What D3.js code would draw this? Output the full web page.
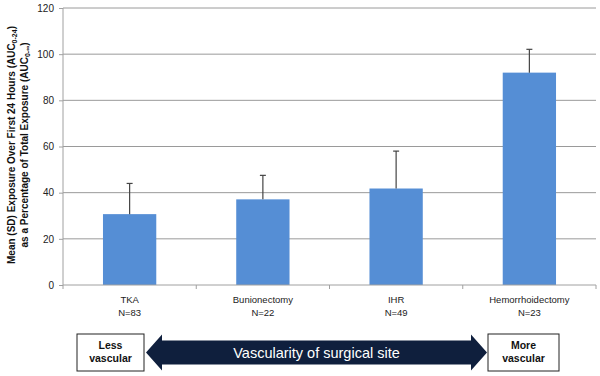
<!DOCTYPE html>
<html>
<head>
    <script src="https://cdn.jsdelivr.net/npm/d3@7"></script>
    <style>
        body { margin: 0; background: #fff; }
        text { font-family: "Liberation Sans", Arial, sans-serif; }
    </style>
</head>
<body>
    <svg width="600" height="376" id="mainsvg"></svg>
    <script>
        // data
        const categories = ['TKA', 'Bunionectomy', 'IHR', 'Hemorrhoidectomy'];
        const sampleSizes = ['N=83', 'N=22', 'N=49', 'N=23'];
        const means = [30.7, 37.1, 41.8, 92.0];
        const sds = [13.3, 10.4, 16.2, 10.1];
        const yTicks = [0, 20, 40, 60, 80, 100, 120];

        const svg = d3.select('#mainsvg');
        const margin = { top: 8, right: 4, bottom: 91, left: 63 };
        const innerWidth = 600 - margin.left - margin.right;
        const innerHeight = 376 - margin.top - margin.bottom;
        const g = svg.append('g')
            .attr('transform', `translate(${margin.left}, ${margin.top})`);

        const xScale = d3.scaleBand().domain(categories).range([0, innerWidth]);
        const yScale = d3.scaleLinear().domain([0, 120]).range([innerHeight, 0]);

        // gridlines
        g.selectAll('.grid').data(yTicks.slice(1)).join('line')
            .attr('x1', 0).attr('x2', innerWidth)
            .attr('y1', d => yScale(d)).attr('y2', d => yScale(d))
            .attr('stroke', '#9a9a9a').attr('stroke-width', 1);

        // y axis
        const yAxis = d3.axisLeft(yScale).tickValues(yTicks).tickSize(4).tickPadding(5);
        const yg = g.append('g').call(yAxis);
        yg.selectAll('path, line').attr('stroke', '#a0a0a0');
        yg.select('.domain').attr('d', `M0,0V${innerHeight}`);
        yg.selectAll('text').attr('font-size', 10).attr('fill', '#222')
            .style('font-family', '"Liberation Sans", Arial, sans-serif');

        // bars
        const barW = xScale.bandwidth() * 0.4;
        g.selectAll('.bar').data(means).join('rect')
            .attr('x', (d, i) => xScale(categories[i]) + (xScale.bandwidth() - barW) / 2)
            .attr('width', barW)
            .attr('y', d => yScale(d))
            .attr('height', d => yScale(0) - yScale(d))
            .attr('fill', '#558ed5');

        // error bars (upper only)
        const eb = g.selectAll('.err').data(means).join('g')
            .attr('transform', (d, i) => `translate(${xScale(categories[i]) + xScale.bandwidth() / 2},0)`);
        eb.append('line')
            .attr('y1', d => yScale(d))
            .attr('y2', (d, i) => yScale(d + sds[i]))
            .attr('stroke', '#444').attr('stroke-width', 1.2);
        eb.append('line')
            .attr('x1', -3).attr('x2', 3)
            .attr('y1', (d, i) => yScale(d + sds[i]))
            .attr('y2', (d, i) => yScale(d + sds[i]))
            .attr('stroke', '#444').attr('stroke-width', 1.2);

        // x axis
        const xg = g.append('g').attr('transform', `translate(0,${innerHeight})`);
        xg.append('line').attr('x1', 0).attr('x2', innerWidth)
            .attr('stroke', '#a0a0a0');
        xg.selectAll('.xt').data(d3.range(categories.length + 1)).join('line')
            .attr('x1', i => i * xScale.step()).attr('x2', i => i * xScale.step())
            .attr('y1', 0).attr('y2', 4).attr('stroke', '#a0a0a0');
        xg.selectAll('.xl').data(categories).join('text')
            .attr('x', d => xScale(d) + xScale.bandwidth() / 2)
            .attr('y', 18)
            .attr('text-anchor', 'middle')
            .attr('font-size', 9.5).attr('fill', '#222')
            .text(d => d);
        xg.selectAll('.xn').data(sampleSizes).join('text')
            .attr('x', (d, i) => xScale(categories[i]) + xScale.bandwidth() / 2)
            .attr('y', 31)
            .attr('text-anchor', 'middle')
            .attr('font-size', 9.5).attr('fill', '#222')
            .text(d => d);

        // y axis title, two rotated lines with subscripts
        const titleLines = [
            { x: 15, main: 'Mean (SD) Exposure Over First 24 Hours (AUC', sub: '0-24' },
            { x: 28, main: 'as a Percentage of Total Exposure (AUC', sub: '0-\u221e' }
        ];
        titleLines.forEach(l => {
            const t = svg.append('text')
                .attr('transform', `translate(${l.x},145) rotate(-90)`)
                .attr('text-anchor', 'middle')
                .attr('font-size', 10).attr('font-weight', 'bold').attr('fill', '#111');
            t.append('tspan').text(l.main);
            t.append('tspan').attr('font-size', 7).attr('dy', 2).text(l.sub);
            t.append('tspan').attr('dy', -2).text(')');
        });

        // vascularity arrow
        const boxY = 334, boxH = 37, cy = boxY + boxH / 2;
        const boxes = [
            { x: 77, w: 67, lines: ['Less', 'vascular'] },
            { x: 488, w: 71, lines: ['More', 'vascular'] }
        ];
        boxes.forEach(b => {
            svg.append('rect').attr('x', b.x).attr('y', boxY)
                .attr('width', b.w).attr('height', boxH)
                .attr('fill', '#fff').attr('stroke', '#222').attr('stroke-width', 1);
            b.lines.forEach((t, i) => {
                svg.append('text').attr('x', b.x + b.w / 2).attr('y', boxY + 15 + i * 13)
                    .attr('text-anchor', 'middle').attr('font-size', 10.5)
                    .attr('font-weight', 'bold').attr('fill', '#111').text(t);
            });
        });
        const ax0 = 146, ax1 = 487, head = 16, shaft = 12, headH = 18;
        svg.append('path')
            .attr('d', `M${ax0},${cy} L${ax0 + head},${cy - headH} L${ax0 + head},${cy - shaft}
                L${ax1 - head},${cy - shaft} L${ax1 - head},${cy - headH} L${ax1},${cy}
                L${ax1 - head},${cy + headH} L${ax1 - head},${cy + shaft} L${ax0 + head},${cy + shaft}
                L${ax0 + head},${cy + headH} Z`)
            .attr('fill', '#0f1f3d');
        svg.append('text').attr('x', (ax0 + ax1) / 2).attr('y', cy + 5)
            .attr('text-anchor', 'middle').attr('font-size', 14.5)
            .attr('fill', '#fff').text('Vascularity of surgical site');
    </script>
</body>
</html>
